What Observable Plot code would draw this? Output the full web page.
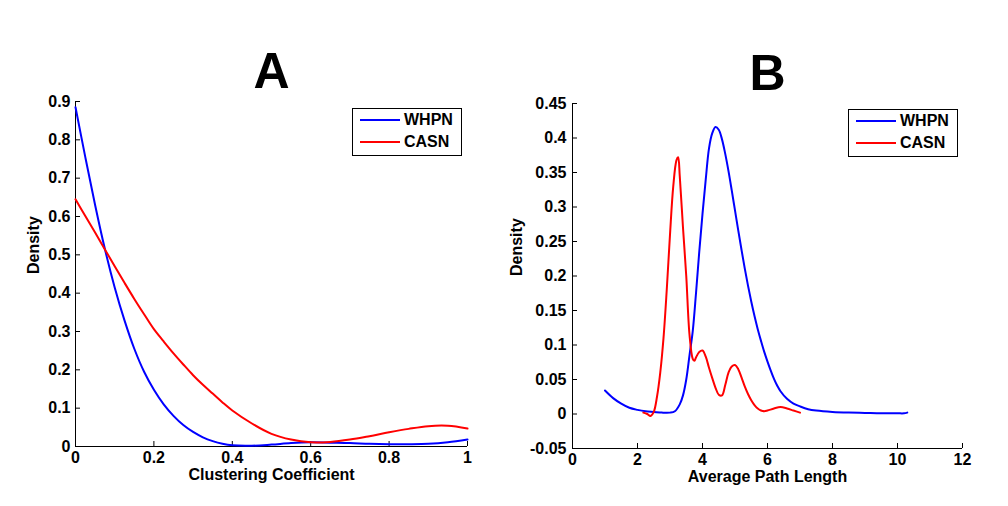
<!DOCTYPE html>
<html>
<head>
<meta charset="utf-8">
<script src="https://cdn.jsdelivr.net/npm/d3@7"></script>
<script src="https://cdn.jsdelivr.net/npm/@observablehq/plot@0.6"></script>
<style>
  html, body { margin: 0; padding: 0; background: #fff; }
  #chart { position: relative; width: 1008px; height: 506px; overflow: hidden; font-family: "Liberation Sans", Arial, sans-serif; }
  #chart svg { position: absolute; top: 0; }
  .legend { position: absolute; box-sizing: border-box; border: 1px solid #000; background: #fff; width: 110px; height: 48px; }
  .legend .row { height: 22px; display: flex; align-items: center; }
  .legend .sw { display: inline-block; width: 40px; height: 0; border-top: 2px solid; margin-left: 7px; margin-right: 4px; }
  .legend .lab { font-size: 16px; font-weight: bold; color: #000; }
</style>
</head>
<body>
<div id="chart"></div>
<script>
// ---------- data ----------
const seriesNames = ["WHPN", "CASN"];
const seriesColors = ["#0000ff", "#ff0000"];
const panelTitles = ["A", "B"];
const xLabels = ["Clustering Coefficient", "Average Path Length"];
const yLabel = "Density";

// Panel A: clustering coefficient densities
const ccX = [0, 0.025, 0.05, 0.075, 0.1, 0.125, 0.15, 0.175, 0.2, 0.225, 0.25, 0.275, 0.3, 0.325, 0.35, 0.375, 0.4, 0.45, 0.5, 0.55, 0.6, 0.65, 0.7, 0.75, 0.8, 0.85, 0.9, 0.95, 1.0];
const ccWHPN = [0.885, 0.755, 0.63, 0.515, 0.415, 0.329, 0.255, 0.195, 0.148, 0.11, 0.08, 0.056, 0.038, 0.024, 0.014, 0.007, 0.003, 0.002, 0.005, 0.009, 0.011, 0.01, 0.009, 0.007, 0.006, 0.006, 0.007, 0.011, 0.018];
const ccCASN = [0.645, 0.601, 0.558, 0.514, 0.47, 0.427, 0.385, 0.345, 0.306, 0.274, 0.243, 0.214, 0.186, 0.161, 0.138, 0.115, 0.094, 0.06, 0.033, 0.018, 0.011, 0.012, 0.018, 0.027, 0.037, 0.046, 0.053, 0.054, 0.047];
const ccXTicks = [0, 0.2, 0.4, 0.6, 0.8, 1];
const ccYTicks = [0, 0.1, 0.2, 0.3, 0.4, 0.5, 0.6, 0.7, 0.8, 0.9];

// Panel B: average path length densities
const aplWHPNx = [1.0, 1.25, 1.5, 1.75, 2.0, 2.25, 2.5, 2.75, 3.0, 3.15, 3.3, 3.4, 3.5, 3.6, 3.7, 3.8, 3.9, 4.0, 4.1, 4.2, 4.3, 4.4, 4.5, 4.6, 4.7, 4.8, 4.9, 5.0, 5.1, 5.2, 5.3, 5.4, 5.5, 5.6, 5.7, 5.8, 5.9, 6.0, 6.1, 6.2, 6.3, 6.4, 6.6, 6.8, 7.0, 7.25, 7.5, 8.0, 8.5, 9.0, 9.5, 10.0, 10.2, 10.3];
const aplWHPNy = [0.034, 0.023, 0.015, 0.009, 0.006, 0.004, 0.003, 0.002, 0.002, 0.004, 0.014, 0.027, 0.05, 0.085, 0.12, 0.175, 0.235, 0.29, 0.34, 0.385, 0.407, 0.416, 0.412, 0.398, 0.377, 0.352, 0.324, 0.295, 0.266, 0.238, 0.211, 0.186, 0.163, 0.142, 0.123, 0.106, 0.09, 0.076, 0.063, 0.051, 0.041, 0.033, 0.022, 0.015, 0.011, 0.007, 0.005, 0.003, 0.002, 0.0015, 0.001, 0.001, 0.001, 0.002];
const aplCASNx = [2.18, 2.3, 2.4, 2.5, 2.6, 2.7, 2.8, 2.9, 3.0, 3.1, 3.2, 3.25, 3.3, 3.4, 3.5, 3.6, 3.7, 3.75, 3.8, 3.9, 4.0, 4.1, 4.2, 4.3, 4.4, 4.5, 4.6, 4.7, 4.8, 4.9, 5.0, 5.1, 5.2, 5.3, 5.4, 5.5, 5.6, 5.7, 5.8, 5.9, 6.0, 6.2, 6.4, 6.6, 6.8, 7.0];
const aplCASNy = [0.002, 0.0, -0.003, 0.003, 0.025, 0.06, 0.11, 0.18, 0.26, 0.33, 0.368, 0.372, 0.345, 0.27, 0.2, 0.115, 0.08, 0.077, 0.082, 0.09, 0.092, 0.083, 0.067, 0.052, 0.038, 0.028, 0.027, 0.042, 0.06, 0.069, 0.071, 0.065, 0.053, 0.04, 0.029, 0.02, 0.013, 0.008, 0.005, 0.004, 0.005, 0.008, 0.01, 0.008, 0.005, 0.002];
const aplXTicks = [0, 2, 4, 6, 8, 10, 12];
const aplYTicks = [-0.05, 0, 0.05, 0.1, 0.15, 0.2, 0.25, 0.3, 0.35, 0.4, 0.45];

// ---------- build ----------
const zip = (xs, ys, name) => xs.map((x, i) => ({x, y: ys[i], series: name}));
const chart = document.getElementById("chart");

function panel({title, xLabel, series, xDomain, yDomain, xTicks, yTicks, left, width, margins, yTickPad, yLabelDx}) {
  const [mt, mr, mb, ml] = margins;
  const H = 506;
  const frameW = width - ml - mr;
  const frameH = H - mt - mb;
  const data = series.flat();
  const svg = Plot.plot({
    width, height: H,
    marginTop: mt, marginRight: mr, marginBottom: mb, marginLeft: ml,
    style: {fontFamily: "'Liberation Sans', Arial, sans-serif", fontSize: "16px", fontWeight: "bold", color: "#000", background: "transparent", overflow: "visible"},
    x: {domain: xDomain},
    y: {domain: yDomain},
    color: {domain: seriesNames, range: seriesColors},
    marks: [
      Plot.ruleY([yDomain[0]], {stroke: "#000", strokeWidth: 1}),
      Plot.ruleX([xDomain[0]], {stroke: "#000", strokeWidth: 1}),
      Plot.tickX(xTicks, {x: d => d, insetTop: frameH - 5, stroke: "#000"}),
      Plot.tickY(yTicks, {y: d => d, insetRight: frameW - 5, stroke: "#000"}),
      Plot.axisX(xTicks, {tickSize: 0, tickPadding: 5, label: null, tickFormat: d => String(d), fontSize: 16, fontWeight: "bold"}),
      Plot.axisY(yTicks, {tickSize: 0, tickPadding: yTickPad, label: null, tickFormat: d => String(d), fontSize: 16, fontWeight: "bold"}),
      Plot.line(data, {x: "x", y: "y", z: "series", stroke: "series", strokeWidth: 2, curve: "catmull-rom"}),
      Plot.text([xLabel], {frameAnchor: "bottom", dy: 33, fontSize: 16, fontWeight: "bold", fill: "#000"}),
      Plot.text([yLabel], {frameAnchor: "left", dx: yLabelDx, rotate: -90, fontSize: 16, fontWeight: "bold", fill: "#000"}),
      Plot.text([title], {frameAnchor: "top", dy: -49, fontSize: 50, fontWeight: "bold", fill: "#000"})
    ]
  });
  svg.style.left = left + "px";
  chart.appendChild(svg);
}

panel({
  title: panelTitles[0], xLabel: xLabels[0],
  series: [zip(ccX, ccWHPN, seriesNames[0]), zip(ccX, ccCASN, seriesNames[1])],
  xDomain: [0, 1], yDomain: [0, 0.9], xTicks: ccXTicks, yTicks: ccYTicks,
  left: 0, width: 504, margins: [101, 37, 60, 75], yTickPad: 5, yLabelDx: -42
});
panel({
  title: panelTitles[1], xLabel: xLabels[1],
  series: [zip(aplWHPNx, aplWHPNy, seriesNames[0]), zip(aplCASNx, aplCASNy, seriesNames[1])],
  xDomain: [0, 12], yDomain: [-0.05, 0.45], xTicks: aplXTicks, yTicks: aplYTicks,
  left: 504, width: 504, margins: [103, 46, 58, 68], yTickPad: 6, yLabelDx: -56
});

// legends
function legend(left, top) {
  const div = document.createElement("div");
  div.className = "legend";
  div.style.left = left + "px";
  div.style.top = top + "px";
  seriesNames.forEach((name, i) => {
    const row = document.createElement("div");
    row.className = "row";
    const sw = document.createElement("span");
    sw.className = "sw";
    sw.style.borderColor = seriesColors[i];
    const lab = document.createElement("span");
    lab.className = "lab";
    lab.textContent = name;
    row.appendChild(sw);
    row.appendChild(lab);
    div.appendChild(row);
  });
  chart.appendChild(div);
}
legend(352, 108);
legend(848, 109);
</script>
</body>
</html>
